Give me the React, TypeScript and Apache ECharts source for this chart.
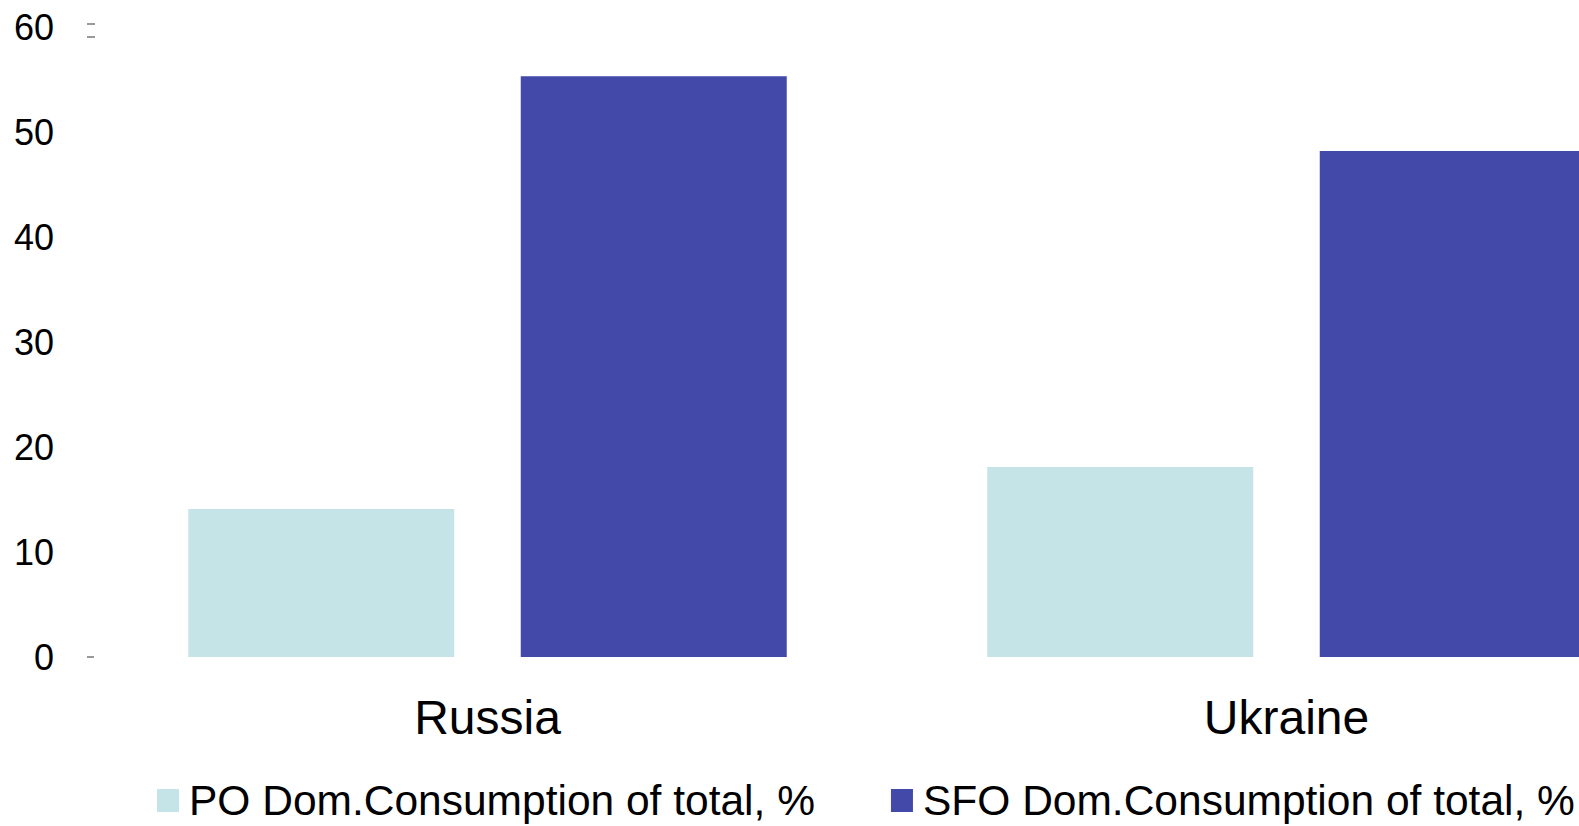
import React, { useEffect, useRef } from "react";
import * as echarts from "echarts";

const categories = ["Russia", "Ukraine"];
const poValues = [14.1, 18.1];
const sfoValues = [55.3, 48.2];
const seriesNames = ["PO Dom.Consumption of total, %", "SFO Dom.Consumption of total, %"];
const yMin = 0;
const yMax = 60;
const yInterval = 10;

const FONT = "'Liberation Sans', Arial, sans-serif";

export default function App() {
  const ref = useRef<HTMLDivElement>(null);
  useEffect(() => {
    if (!ref.current) return;
    const chart = echarts.init(ref.current, null, { renderer: "svg" });
    chart.setOption({
      animation: false,
      backgroundColor: "#ffffff",
      textStyle: { fontFamily: FONT },
      grid: {
        left: 88,
        top: 27,
        height: 630,
        width: 1598,
        containLabel: false,
        outerBoundsMode: "none",
      },
      legend: {
        left: 152,
        top: 774,
        width: 1425,
        icon: "rect",
        itemWidth: 22,
        itemHeight: 23,
        itemGap: 76,
        textStyle: {
          fontSize: 42.5,
          color: "#000",
          fontFamily: FONT,
          lineHeight: 43,
          padding: [0, 0, 0, 5],
        },
        data: seriesNames,
      },
      xAxis: {
        type: "category",
        data: categories,
        axisLine: { show: false },
        axisTick: { show: false },
        axisLabel: {
          fontSize: 48,
          color: "#000",
          fontFamily: FONT,
          margin: 36,
          lineHeight: 48,
          verticalAlign: "top",
        },
      },
      yAxis: {
        type: "value",
        min: yMin,
        max: yMax,
        interval: yInterval,
        axisLine: { show: false },
        axisTick: { show: false },
        splitLine: { show: false },
        axisLabel: { fontSize: 36, color: "#000", fontFamily: FONT, margin: 34 },
      },
      series: [
        {
          name: seriesNames[0],
          type: "bar",
          data: poValues,
          barWidth: 266,
          barGap: "25%",
          itemStyle: { color: "#C5E4E7" },
        },
        {
          name: seriesNames[1],
          type: "bar",
          data: sfoValues,
          barWidth: 266,
          barGap: "25%",
          itemStyle: { color: "#4349A9" },
        },
      ],
    });
    const y0 = chart.convertToPixel({ yAxisIndex: 0 }, yMin) as number;
    const yTop = chart.convertToPixel({ yAxisIndex: 0 }, yMax) as number;
    const tickStyle = { stroke: "#999999", lineWidth: 2 };
    chart.setOption({
      graphic: [
        { type: "line", shape: { x1: 87, y1: y0, x2: 94, y2: y0 }, style: tickStyle, silent: true },
        { type: "line", shape: { x1: 87, y1: yTop - 3, x2: 95, y2: yTop - 3 }, style: tickStyle, silent: true },
        { type: "line", shape: { x1: 87, y1: yTop + 10, x2: 95, y2: yTop + 10 }, style: tickStyle, silent: true },
      ],
    });
    return () => chart.dispose();
  }, []);
  return (
    <div
      ref={ref}
      style={{ position: "fixed", left: 0, top: 0, width: 1579, height: 826 }}
    />
  );
}
